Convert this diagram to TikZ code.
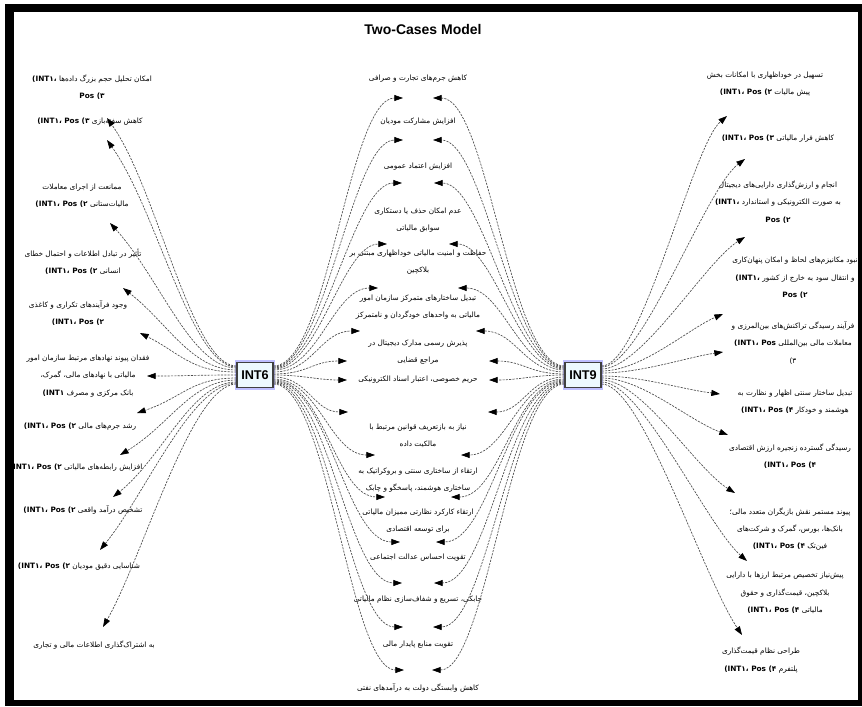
\documentclass[tikz,border=0pt]{standalone}
\usepackage{fontspec}
\setmainfont{Liberation Sans}
\newfontfamily\fafont[Script=Arabic]{DejaVu Sans}
\TeXXeTstate=1
\usetikzlibrary{arrows.meta}
\newcommand{\fa}[1]{\beginR#1\endR}
\newcommand{\intpos}[1]{\beginL{\bfseries(INT۱، Pos #1)}\endL}
\newcommand{\intopen}{\beginL{\bfseries(INT۱،}\endL}
\newcommand{\posclose}[1]{\beginL{\bfseries Pos #1)}\endL}

\tikzset{
  lbl/.style={font=\fafont\fontsize{5.5}{13}\selectfont, align=center, inner sep=1pt},
  intbox/.style={draw=black!75, line width=0.9pt, fill=cyan!7,
    preaction={draw=blue!25, line width=3pt},
    font=\bfseries\fontsize{9.5}{10}\selectfont,
    minimum width=27pt, minimum height=19pt, inner sep=1pt},
  link/.style={draw=black!70, line width=0.5pt, dash pattern=on 1.6pt off 0.9pt,
    -{Triangle[length=6.5pt,width=4.5pt,color=black]}}
}

\begin{document}
\begin{tikzpicture}[x=0.75pt,y=-0.75pt]
\useasboundingbox (0,0) rectangle (862,706);
% frame
\fill[white] (0,0) rectangle (862,706);
\fill[black] (5,4) rectangle (862,706);
\fill[white] (14,12) rectangle (858,700);

\node (title) at (423,29) {\bfseries\fontsize{10.5}{12}\selectfont Two-Cases Model};

% the two cases
\node[intbox] (INT6) at (255,375) {INT6};
\node[intbox] (INT9) at (583,375) {INT9};

% left column
\node[lbl] (A1) at (92,87) {\fa{امکان تحلیل حجم بزرگ داده‌ها \intopen}\\\fa{\posclose{۳}}};
\node[lbl] (A2) at (90,122) {\fa{کاهش سفته‌بازی \intpos{۳}}};
\node[lbl] (A3) at (82,196) {\fa{ممانعت از اجرای معاملات}\\\fa{مالیات‌ستانی \intpos{۲}}};
\node[lbl] (A4) at (83,262) {\fa{تأثیر در تبادل اطلاعات و احتمال خطای}\\\fa{انسانی \intpos{۲}}};
\node[lbl] (A5) at (78,313) {\fa{وجود فرآیندهای تکراری و کاغذی}\\\fa{\intpos{۲}}};
\node[lbl] (A6) at (88,376) {\fa{فقدان پیوند نهادهای مرتبط سازمان امور}\\\fa{مالیاتی با نهادهای مالی، گمرک،}\\\fa{بانک مرکزی و مصرف \beginL{\bfseries(INT۱}\endL}};
\node[lbl] (A7) at (80,427) {\fa{رشد جرم‌های مالی \intpos{۲}}};
\node[lbl] (A8) at (76,468) {\fa{افزایش رابطه‌های مالیاتی \intpos{۲}}};
\node[lbl] (A9) at (83,510) {\fa{تشخیص درآمد واقعی \intpos{۲}}};
\node[lbl] (A10) at (79,567) {\fa{شناسایی دقیق مودیان \intpos{۲}}};
\node[lbl] (A11) at (94,645) {\fa{به اشتراک‌گذاری اطلاعات مالی و تجاری}};

% middle column, shared by both cases
\node[lbl] (C1) at (418,79) {\fa{کاهش جرم‌های تجارت و صرافی}};
\node[lbl] (C2) at (418,122) {\fa{افزایش مشارکت مودیان}};
\node[lbl] (C3) at (418,167) {\fa{افزایش اعتماد عمومی}};
\node[lbl] (C4) at (418,220) {\fa{عدم امکان حذف یا دستکاری}\\\fa{سوابق مالیاتی}};
\node[lbl] (C5) at (418,262) {\fa{حفاظت و امنیت مالیاتی خوداظهاری مبتنی بر}\\\fa{بلاکچین}};
\node[lbl] (C6) at (418,307) {\fa{تبدیل ساختارهای متمرکز سازمان امور}\\\fa{مالیاتی به واحدهای خودگردان و نامتمرکز}};
\node[lbl] (C7) at (418,352) {\fa{پذیرش رسمی مدارک دیجیتال در}\\\fa{مراجع قضایی}};
\node[lbl] (C8) at (418,380) {\fa{حریم خصوصی، اعتبار اسناد الکترونیکی}};
\node[lbl] (C9) at (418,436) {\fa{نیاز به بازتعریف قوانین مرتبط با}\\\fa{مالکیت داده}};
\node[lbl] (C10) at (418,480) {\fa{ارتقاء از ساختاری سنتی و بروکراتیک به}\\\fa{ساختاری هوشمند، پاسخگو و چابک}};
\node[lbl] (C11) at (418,521) {\fa{ارتقاء کارکرد نظارتی ممیزان مالیاتی}\\\fa{برای توسعه اقتصادی}};
\node[lbl] (C12) at (418,558) {\fa{تقویت احساس عدالت اجتماعی}};
\node[lbl] (C13) at (418,600) {\fa{چابکی، تسریع و شفاف‌سازی نظام مالیاتی}};
\node[lbl] (C14) at (418,645) {\fa{تقویت منابع پایدار مالی}};
\node[lbl] (C15) at (418,688) {\fa{کاهش وابستگی دولت به درآمدهای نفتی}};

% right column
\node[lbl] (R1) at (765,84) {\fa{تسهیل در خوداظهاری با امکانات بخش}\\\fa{پیش مالیات \intpos{۲}}};
\node[lbl] (R2) at (778,139) {\fa{کاهش فرار مالیاتی \intpos{۳}}};
\node[lbl] (R3) at (778,202) {\fa{انجام و ارزش‌گذاری دارایی‌های دیجیتال}\\\fa{به صورت الکترونیکی و استاندارد \intopen}\\\fa{\posclose{۲}}};
\node[lbl] (R4) at (795,278) {\fa{نبود مکانیزم‌های لحاظ و امکان پنهان‌کاری}\\\fa{و انتقال سود به خارج از کشور \intopen}\\\fa{\posclose{۲}}};
\node[lbl] (R5) at (793,343) {\fa{فرآیند رسیدگی تراکنش‌های بین‌المرزی و}\\\fa{معاملات مالی بین‌المللی \beginL{\bfseries(INT۱، Pos}\endL}\\\fa{۳)}};
\node[lbl] (R6) at (795,402) {\fa{تبدیل ساختار سنتی اظهار و نظارت به}\\\fa{هوشمند و خودکار \intpos{۴}}};
\node[lbl] (R7) at (790,456) {\fa{رسیدگی گسترده زنجیره ارزش اقتصادی}\\\fa{\intpos{۴}}};
\node[lbl] (R8) at (790,529) {\fa{پیوند مستمر نقش بازیگران متعدد مالی؛}\\\fa{بانک‌ها، بورس، گمرک و شرکت‌های}\\\fa{فین‌تک \intpos{۴}}};
\node[lbl] (R9) at (785,593) {\fa{پیش‌نیاز تخصیص مرتبط ارزها با دارایی}\\\fa{بلاکچین، قیمت‌گذاری و حقوق}\\\fa{مالیاتی \intpos{۴}}};
\node[lbl] (R10) at (761,660) {\fa{طراحی نظام قیمت‌گذاری}\\\fa{پلتفرم \intpos{۴}}};

% INT6 to the left column
\foreach \n/\sy/\dx/\dy/\cx/\cy in {A1/-9/15/31/50/70, A2/-8/17/18/50/70, A3/-7/28/27/50/55,
    A4/-5/40/26/45/35, A5/-3/62/20/40/20, A6/0/59/0/40/0, A7/3/57/-14/45/-15,
    A8/5/44/-13/50/-30, A9/7/30/-13/50/-40, A10/8/21/-17/45/-55, A11/9/9/-18/40/-70}
  \draw[link] ([shift={(0,\sy)}]INT6.west) .. controls +(-45,0) and +(\cx,\cy) .. ([shift={(\dx,\dy)}]\n.center);

% both cases to the middle column
\foreach \n/\sy/\dx/\dy/\h in {C1/-9/15/19/55, C2/-8/15/18/52, C3/-7/16/16/50, C4/-6/31/24/45,
    C5/-5/40/26/45, C6/-3/58/24/40, C7/-1/71/9/35, C8/0/71/0/30, C9/2/70/-24/35,
    C10/4/43/-25/45, C11/5/33/-24/50, C12/6/18/-16/55, C13/7/16/-17/55,
    C14/8/15/-18/55, C15/9/14/-18/55}
{
  \draw[link] ([shift={(0,\sy)}]INT6.east) .. controls +(\h,0) and +(-\h,0) .. ([shift={(-\dx,\dy)}]\n.center);
  \draw[link] ([shift={(0,\sy)}]INT9.west) .. controls +(-\h,0) and +(\h,0) .. ([shift={(\dx,\dy)}]\n.center);
}

% INT9 to the right column
\foreach \n/\sy/\dx/\dy/\cx/\cy in {R1/-9/-38/32/-35/30, R2/-8/-33/20/-40/30, R3/-6/-33/35/-40/25,
    R4/-4/-72/36/-35/15, R5/-2/-70/9/-35/5, R6/1/-75/-8/-40/-5, R7/3/-62/-21/-40/-15,
    R8/5/-55/-36/-40/-25, R9/7/-38/-32/-40/-35, R10/9/-19/-25/-40/-60}
  \draw[link] ([shift={(0,\sy)}]INT9.east) .. controls +(40,0) and +(\cx,\cy) .. ([shift={(\dx,\dy)}]\n.center);
\end{tikzpicture}
\end{document}
